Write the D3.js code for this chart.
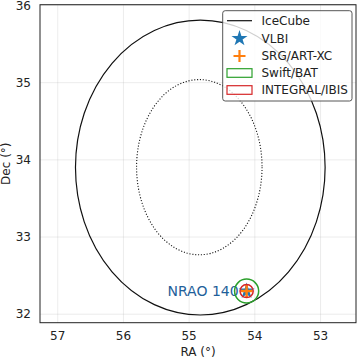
<!DOCTYPE html>
<html>
<head>
<meta charset="utf-8">
<script src="https://cdn.jsdelivr.net/npm/d3@7"></script>
<style>
  body { margin: 0; background: #fff; }
  text { font-family: "DejaVu Sans", sans-serif; }
</style>
</head>
<body>
<div class="chart"></div>
<script>
// axis ticks
var raTicks = [57, 56, 55, 54, 53];
var decTicks = [32, 33, 34, 35, 36];

// IceCube error ellipses: [centre RA, centre Dec, half-width RA, half-height Dec]
var iceCube90 = [54.83, 33.90, 1.90, 1.91];
var iceCube50 = [54.845, 33.905, 0.955, 1.135];

// counterpart source
var sourceName = "NRAO 140";
var sourceRA = 54.125;
var sourceDec = 32.30;
var swiftRadius = 0.155;     // deg
var integralRadius = 0.085;  // deg

var legendLabels = ["IceCube", "VLBI", "SRG/ART-XC", "Swift/BAT", "INTEGRAL/IBIS"];

var W = 358, H = 359;
var pl = 40, pr = 356, pt = 4.7, pb = 322.7;

var svg = d3.select(".chart").append("svg")
    .attr("width", W)
    .attr("height", H);

var x = d3.scaleLinear().domain([57.27, 52.46]).range([pl, pr]);
var y = d3.scaleLinear().domain([31.89, 36.01]).range([pb, pt]);

svg.append("defs").append("clipPath").attr("id", "clip")
  .append("rect")
    .attr("x", pl).attr("y", pt)
    .attr("width", pr - pl).attr("height", pb - pt);

// grid
var grid = svg.append("g").attr("stroke", "#b0b0b0").attr("stroke-opacity", 0.3).attr("stroke-width", 0.8);
raTicks.forEach(function(t) {
  grid.append("line").attr("x1", x(t)).attr("x2", x(t)).attr("y1", pt).attr("y2", pb);
});
decTicks.forEach(function(t) {
  grid.append("line").attr("y1", y(t)).attr("y2", y(t)).attr("x1", pl).attr("x2", pr);
});

var plot = svg.append("g").attr("clip-path", "url(#clip)");

function drawEllipse(e, dash) {
  plot.append("ellipse")
    .attr("cx", x(e[0]))
    .attr("cy", y(e[1]))
    .attr("rx", Math.abs(x(e[0] + e[2]) - x(e[0])))
    .attr("ry", Math.abs(y(e[1] + e[3]) - y(e[1])))
    .attr("fill", "none")
    .attr("stroke", "#111")
    .attr("stroke-width", dash ? 1.1 : 1.2)
    .attr("stroke-dasharray", dash);
}
drawEllipse(iceCube90, null);
drawEllipse(iceCube50, "1.1,1.8");

// source circles, radius in sky degrees (RA stretched by 1/cos(dec))
var cosDec = Math.cos(sourceDec * Math.PI / 180);
function skyCircle(r, color) {
  plot.append("ellipse")
    .attr("cx", x(sourceRA))
    .attr("cy", y(sourceDec))
    .attr("rx", Math.abs(x(sourceRA + r / cosDec) - x(sourceRA)))
    .attr("ry", Math.abs(y(sourceDec + r) - y(sourceDec)))
    .attr("fill", "none")
    .attr("stroke", color)
    .attr("stroke-width", 1.5);
}

// label
plot.append("text")
    .attr("x", x(sourceRA) - 8)
    .attr("y", y(sourceDec))
    .attr("dy", "0.35em")
    .attr("text-anchor", "end")
    .attr("fill", "#1f5f9a")
    .style("font-size", "14px")
    .text(sourceName);

var star = d3.symbol().type(d3.symbolStar).size(80);
var plus = "M-6,0H6M0,-6V6";

skyCircle(swiftRadius, "#2ca02c");
plot.append("path").attr("d", star())
    .attr("transform", "translate(" + x(sourceRA) + "," + y(sourceDec) + ")")
    .attr("fill", "#1f77b4");
plot.append("path").attr("d", plus)
    .attr("transform", "translate(" + x(sourceRA) + "," + y(sourceDec) + ")")
    .attr("stroke", "#ff7f0e").attr("stroke-width", 2.5).attr("fill", "none");
skyCircle(integralRadius, "#d62728");

// frame
svg.append("rect")
    .attr("x", pl).attr("y", pt)
    .attr("width", pr - pl).attr("height", pb - pt)
    .attr("fill", "none").attr("stroke", "#222").attr("stroke-width", 1);

// tick labels
svg.selectAll(".xt").data(raTicks).enter().append("text")
    .attr("x", function(d) { return x(d); })
    .attr("y", 336)
    .attr("dy", "0.35em")
    .attr("text-anchor", "middle")
    .style("font-size", "12px")
    .attr("fill", "#222")
    .text(function(d) { return d; });
svg.selectAll(".yt").data(decTicks).enter().append("text")
    .attr("x", 31)
    .attr("y", function(d) { return y(d); })
    .attr("dy", "0.35em")
    .attr("text-anchor", "end")
    .style("font-size", "12px")
    .attr("fill", "#222")
    .text(function(d) { return d; });

// axis labels
svg.append("text")
    .attr("x", (pl + pr) / 2)
    .attr("y", 352)
    .attr("dy", "0.35em")
    .attr("text-anchor", "middle")
    .style("font-size", "12px")
    .attr("fill", "#222")
    .text("RA (°)");
svg.append("text")
    .attr("transform", "translate(6," + ((pt + pb) / 2) + ") rotate(-90)")
    .attr("dy", "0.35em")
    .attr("text-anchor", "middle")
    .style("font-size", "12px")
    .attr("fill", "#222")
    .text("Dec (°)");

// legend
var lg = svg.append("g");
lg.append("rect")
    .attr("x", 222.7).attr("y", 10.7)
    .attr("width", 129.3).attr("height", 90.3)
    .attr("rx", 2.5)
    .attr("fill", "#fff").attr("fill-opacity", 0.8)
    .attr("stroke", "#444").attr("stroke-width", 0.9);

var rowY = [20.7, 38.5, 56, 73, 90];
var hx0 = 227, hx1 = 252, hxc = 239.5;
lg.append("line").attr("x1", hx0).attr("x2", hx1).attr("y1", rowY[0]).attr("y2", rowY[0])
    .attr("stroke", "#111").attr("stroke-width", 1.2);
lg.append("path").attr("d", star())
    .attr("transform", "translate(" + hxc + "," + rowY[1] + ")")
    .attr("fill", "#1f77b4");
lg.append("path").attr("d", plus)
    .attr("transform", "translate(" + hxc + "," + rowY[2] + ")")
    .attr("stroke", "#ff7f0e").attr("stroke-width", 2.2).attr("fill", "none");
lg.append("rect").attr("x", hx0).attr("y", rowY[3] - 4.3).attr("width", hx1 - hx0).attr("height", 8.6)
    .attr("fill", "none").attr("stroke", "#2ca02c").attr("stroke-width", 1.2);
lg.append("rect").attr("x", hx0).attr("y", rowY[4] - 4.3).attr("width", hx1 - hx0).attr("height", 8.6)
    .attr("fill", "none").attr("stroke", "#d62728").attr("stroke-width", 1.2);

lg.selectAll(".lt").data(legendLabels).enter().append("text")
    .attr("x", 261.5)
    .attr("y", function(d, i) { return rowY[i]; })
    .attr("dy", "0.35em")
    .style("font-size", "12px")
    .attr("fill", "#222")
    .text(function(d) { return d; });
</script>
</body>
</html>
